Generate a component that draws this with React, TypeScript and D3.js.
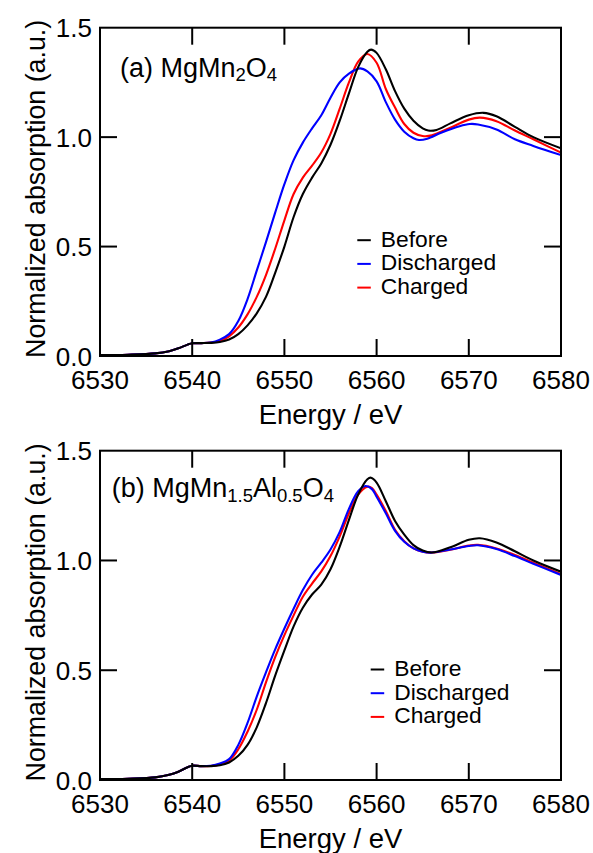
import React from "react";
import * as d3 from "d3";

// ---- data (energy eV, normalized absorption) ----
const xTicks = [6530, 6540, 6550, 6560, 6570, 6580];
const yTicks = [0.0, 0.5, 1.0, 1.5];
const legendLabels = ["Before", "Discharged", "Charged"];
const seriesColors = ["#000000", "#0000ff", "#ff0000"];

const preEdgeA: [number, number][] = [
  [6530, 0.004], [6533, 0.006], [6536, 0.012], [6537.5, 0.022], [6538.5, 0.035], [6539.5, 0.052], [6540, 0.058], [6541, 0.059],
];
const preEdgeB: [number, number][] = [
  [6530, 0.004], [6533, 0.006], [6536, 0.012], [6537.5, 0.024], [6538.5, 0.038], [6539.5, 0.058], [6540, 0.065], [6541, 0.063],
];

const aBefore: [number, number][] = [
  [6542, 0.06], [6543, 0.064], [6544, 0.075], [6545, 0.1], [6546, 0.14], [6547, 0.195], [6548, 0.27], [6549, 0.38],
  [6550, 0.5], [6551, 0.635], [6552, 0.74], [6553, 0.815], [6554, 0.88], [6555, 0.965], [6556, 1.075], [6557, 1.2],
  [6558, 1.32], [6559, 1.39], [6559.4, 1.4], [6560, 1.385], [6561, 1.31], [6562, 1.21], [6563, 1.13], [6564, 1.075],
  [6565, 1.04], [6565.6, 1.03], [6566.5, 1.033], [6568, 1.063], [6570, 1.1], [6571.6, 1.111], [6573, 1.095],
  [6575, 1.047], [6577, 1.0], [6580, 0.949],
];
const aDischarged: [number, number][] = [
  [6542, 0.062], [6543, 0.075], [6544, 0.1], [6545, 0.16], [6546, 0.26], [6547, 0.39], [6548, 0.52], [6549, 0.655],
  [6550, 0.785], [6551, 0.895], [6552, 0.975], [6553, 1.04], [6554, 1.1], [6555, 1.18], [6556, 1.25], [6557, 1.29],
  [6558.2, 1.314], [6559, 1.3], [6560, 1.255], [6561, 1.16], [6562, 1.08], [6563, 1.025], [6564, 0.995],
  [6564.6, 0.987], [6565.5, 0.993], [6567, 1.02], [6569, 1.05], [6570.1, 1.06], [6571, 1.058], [6573, 1.035],
  [6575, 0.99], [6577, 0.96], [6580, 0.918],
];
const aCharged: [number, number][] = [
  [6542, 0.061], [6543, 0.068], [6544, 0.09], [6545, 0.13], [6546, 0.19], [6547, 0.27], [6548, 0.37], [6549, 0.49],
  [6550, 0.62], [6551, 0.74], [6552, 0.815], [6553, 0.87], [6554, 0.93], [6555, 1.015], [6556, 1.13], [6557, 1.25],
  [6558, 1.345], [6559, 1.38], [6560, 1.34], [6561, 1.22], [6562, 1.135], [6563, 1.06], [6564, 1.02], [6565, 1.005],
  [6566, 1.008], [6568, 1.043], [6570, 1.08], [6571.2, 1.089], [6573, 1.073], [6575, 1.03], [6577, 0.99], [6580, 0.929],
];

const bBefore: [number, number][] = [
  [6542, 0.063], [6543, 0.067], [6544, 0.08], [6545, 0.11], [6546, 0.16], [6547, 0.24], [6548, 0.35], [6549, 0.475],
  [6550, 0.59], [6551, 0.7], [6552, 0.785], [6553, 0.845], [6554, 0.89], [6555, 0.96], [6556, 1.063], [6557, 1.185],
  [6558, 1.3], [6559, 1.37], [6559.4, 1.377], [6560, 1.355], [6561, 1.27], [6562, 1.18], [6563, 1.118], [6564, 1.07],
  [6565, 1.045], [6566, 1.036], [6568, 1.06], [6570, 1.094], [6571.2, 1.101], [6573, 1.082], [6575, 1.042],
  [6577, 1.0], [6580, 0.949],
];
const bDischarged: [number, number][] = [
  [6542, 0.065], [6543, 0.075], [6544, 0.095], [6545, 0.16], [6546, 0.26], [6547, 0.38], [6548, 0.49], [6549, 0.595],
  [6550, 0.69], [6551, 0.78], [6552, 0.865], [6553, 0.935], [6554, 0.99], [6555, 1.05], [6556, 1.13], [6557, 1.235],
  [6558, 1.315], [6558.8, 1.339], [6559.5, 1.325], [6560, 1.29], [6561, 1.215], [6562, 1.135], [6563, 1.085],
  [6564, 1.055], [6565, 1.04], [6566, 1.036], [6568, 1.05], [6570, 1.066], [6571, 1.069], [6573, 1.052],
  [6575, 1.02], [6577, 0.985], [6580, 0.934],
];
const bCharged: [number, number][] = [
  [6542, 0.064], [6543, 0.071], [6544, 0.088], [6545, 0.14], [6546, 0.22], [6547, 0.32], [6548, 0.445], [6549, 0.56],
  [6550, 0.66], [6551, 0.75], [6552, 0.835], [6553, 0.895], [6554, 0.95], [6555, 1.02], [6556, 1.11], [6557, 1.215],
  [6558, 1.3], [6559, 1.336], [6559.5, 1.33], [6560, 1.3], [6561, 1.225], [6562, 1.14], [6563, 1.088], [6564, 1.055],
  [6565, 1.04], [6566, 1.036], [6568, 1.049], [6570, 1.068], [6571, 1.071], [6573, 1.055], [6575, 1.025],
  [6577, 0.99], [6580, 0.938],
];

const FONT = "'Liberation Sans', Arial, Helvetica, sans-serif";

type PanelProps = {
  top: number;
  bottom: number;
  series: [number, number][][];
  label: React.ReactNode;
  labelX: number;
  labelY: number;
  legendLineX: number;
  legendY: number;
  id: string;
};

function Panel({ top, bottom, series, label, labelX, labelY, legendLineX, legendY, id }: PanelProps) {
  const left = 100;
  const right = 561;
  const x = d3.scaleLinear().domain([6530, 6580]).range([left, right]);
  const y = d3.scaleLinear().domain([0, 1.5]).range([bottom, top]);
  const line = d3
    .line<[number, number]>()
    .x((d) => x(d[0]))
    .y((d) => y(d[1]))
    .curve(d3.curveCatmullRom.alpha(0.5));
  const tickLen = 17;
  const drawOrder = [2, 1, 0];
  return (
    <g>
      <defs>
        <clipPath id={id}>
          <rect x={left} y={top} width={right - left} height={bottom - top} />
        </clipPath>
      </defs>
      <g clipPath={`url(#${id})`}>
        {drawOrder.map((i) => (
          <path key={i} d={line(series[i]) || ""} fill="none" stroke={seriesColors[i]} strokeWidth={2.1} />
        ))}
      </g>
      <rect x={left} y={top} width={right - left} height={bottom - top} fill="none" stroke="#000" strokeWidth={2} />
      {xTicks.slice(1, -1).map((t) => (
        <g key={"xt" + t}>
          <line x1={x(t)} x2={x(t)} y1={bottom} y2={bottom - tickLen} stroke="#000" strokeWidth={2} />
          <line x1={x(t)} x2={x(t)} y1={top} y2={top + tickLen} stroke="#000" strokeWidth={2} />
        </g>
      ))}
      {yTicks.slice(1, -1).map((t) => (
        <g key={"yt" + t}>
          <line x1={left} x2={left + tickLen} y1={y(t)} y2={y(t)} stroke="#000" strokeWidth={2} />
          <line x1={right} x2={right - tickLen} y1={y(t)} y2={y(t)} stroke="#000" strokeWidth={2} />
        </g>
      ))}
      {xTicks.map((t) => (
        <text key={"xl" + t} x={x(t)} y={bottom + 32.5} textAnchor="middle" fontSize={26} fontFamily={FONT}>
          {t}
        </text>
      ))}
      {yTicks.map((t) => (
        <text key={"yl" + t} x={92} y={y(t) + 9.5} textAnchor="end" fontSize={26} fontFamily={FONT}>
          {t.toFixed(1)}
        </text>
      ))}
      <text x={(left + right) / 2} y={bottom + 68} textAnchor="middle" fontSize={27.5} fontFamily={FONT}>
        Energy / eV
      </text>
      <text
        transform={`translate(45, ${(top + bottom) / 2 - 3}) rotate(-90)`}
        textAnchor="middle"
        fontSize={26.8}
        fontFamily={FONT}
      >
        Normalized absorption (a.u.)
      </text>
      <text x={labelX} y={labelY} fontSize={27} fontFamily={FONT}>
        {label}
      </text>
      {legendLabels.map((lab, i) => (
        <g key={lab}>
          <line
            x1={legendLineX}
            x2={legendLineX + 13.5}
            y1={legendY + i * 23.7 - 6.5}
            y2={legendY + i * 23.7 - 6.5}
            stroke={seriesColors[i]}
            strokeWidth={2}
          />
          <text x={legendLineX + 23.5} y={legendY + i * 23.7} fontSize={22.8} fontFamily={FONT}>
            {lab}
          </text>
        </g>
      ))}
    </g>
  );
}

export default function App() {
  const seriesA = [preEdgeA.concat(aBefore), preEdgeA.concat(aDischarged), preEdgeA.concat(aCharged)];
  const seriesB = [preEdgeB.concat(bBefore), preEdgeB.concat(bDischarged), preEdgeB.concat(bCharged)];
  const sub = 18.5;
  return (
    <svg
      width={593}
      height={853}
      style={{ position: "absolute", left: 0, top: 0, background: "#fff" }}
    >
      <rect x={0} y={0} width={593} height={853} fill="#fff" />
      <Panel
        id="clipA"
        top={27.7}
        bottom={356}
        series={seriesA}
        label={
          <>
            <tspan>(a) MgMn</tspan>
            <tspan fontSize={sub} dy={4}>2</tspan>
            <tspan dy={-4}>O</tspan>
            <tspan fontSize={sub} dy={4}>4</tspan>
          </>
        }
        labelX={120}
        labelY={76.7}
        legendLineX={357.3}
        legendY={246.7}
      />
      <Panel
        id="clipB"
        top={450.7}
        bottom={780}
        series={seriesB}
        label={
          <>
            <tspan>(b) MgMn</tspan>
            <tspan fontSize={sub} dy={5}>1.5</tspan>
            <tspan dy={-5}>Al</tspan>
            <tspan fontSize={sub} dy={5}>0.5</tspan>
            <tspan dy={-5}>O</tspan>
            <tspan fontSize={sub} dy={5}>4</tspan>
          </>
        }
        labelX={111.7}
        labelY={496.7}
        legendLineX={370.7}
        legendY={676}
      />
    </svg>
  );
}
